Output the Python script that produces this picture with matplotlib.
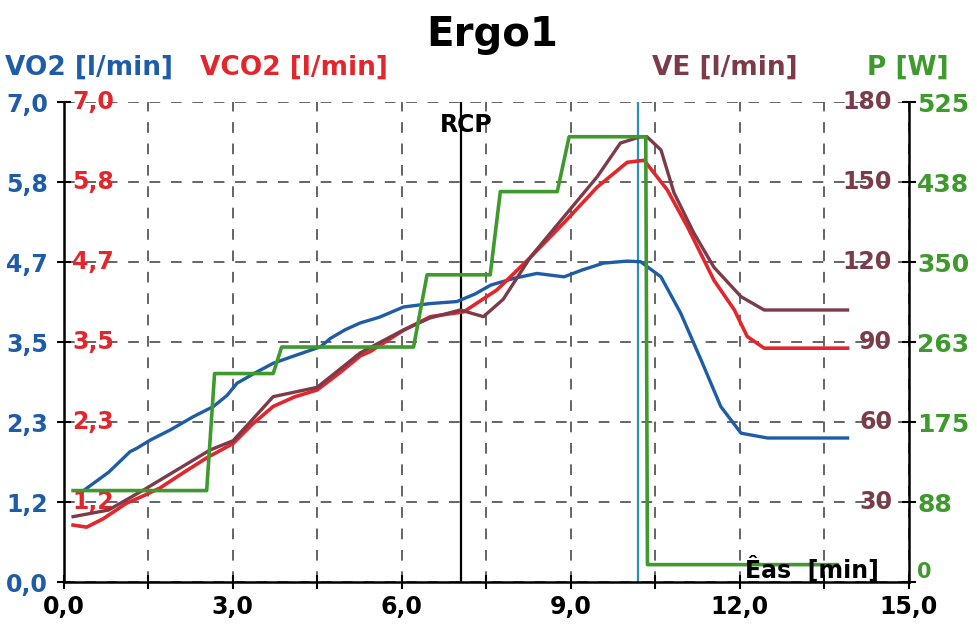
import numpy as np
import matplotlib
matplotlib.use('Agg')
from matplotlib import pyplot as plt
from matplotlib import transforms

BLUE = '#1f5ca8'
RED = '#e2262c'
BROWN = '#7c3b48'
GREEN = '#3f9a2e'
TEAL = '#2a90b4'

# VO2 [l/min]
vo2_t = [0.30, 0.50, 0.80, 1.18, 1.30, 1.54, 1.90, 2.30, 2.66, 2.90, 3.08, 3.40, 3.72, 4.10, 4.56,
         4.73, 5.00, 5.27, 5.60, 6.03, 6.50, 6.98, 7.30, 7.58, 8.00, 8.40, 8.88, 9.20, 9.58, 10.00,
         10.24, 10.60, 10.95, 11.31, 11.66, 12.02, 12.49, 13.91]
vo2 = [1.30, 1.42, 1.60, 1.90, 1.95, 2.07, 2.22, 2.41, 2.56, 2.72, 2.90, 3.05, 3.19, 3.30, 3.43,
       3.55, 3.68, 3.78, 3.86, 4.01, 4.06, 4.09, 4.20, 4.33, 4.43, 4.50, 4.45, 4.55, 4.65, 4.68,
       4.67, 4.45, 3.92, 3.24, 2.56, 2.17, 2.10, 2.10]

# VCO2 [l/min]
vco2_t = [0.17, 0.41, 0.70, 1.12, 1.40, 1.71, 2.10, 2.54, 3.01, 3.35, 3.72, 4.10, 4.50, 4.90, 5.27,
          5.44, 6.03, 6.51, 7.10, 7.69, 8.29, 8.88, 9.47, 10.00, 10.30, 10.71, 11.07, 11.54, 11.90,
          12.13, 12.43, 13.91]
vco2 = [0.83, 0.80, 0.92, 1.15, 1.25, 1.37, 1.58, 1.81, 2.02, 2.30, 2.56, 2.70, 2.80, 3.05, 3.30,
        3.36, 3.67, 3.87, 3.94, 4.26, 4.74, 5.24, 5.76, 6.12, 6.15, 5.72, 5.18, 4.40, 3.97,
        3.58, 3.41, 3.41]

# VE [l/min]
ve_t = [0.17, 0.80, 1.42, 2.01, 2.60, 3.01, 3.72, 4.50, 5.27, 6.03, 6.50, 7.04, 7.45, 7.80, 8.29,
        8.88, 9.47, 9.88, 10.24, 10.35, 10.60, 10.83, 11.18, 11.54, 12.02, 12.43, 13.91]
ve = [24.5, 27.0, 34.5, 42.0, 49.5, 53.0, 69.5, 73.0, 86.0, 94.5, 99.0, 102.0, 99.5, 106.0, 122.0,
      137.0, 152.0, 164.6, 167.0, 167.0, 162.0, 146.0, 131.0, 118.0, 107.0, 102.0, 102.0]

# P [W]
p_t = [0.17, 2.54, 2.68, 3.72, 3.87, 6.21, 6.45, 7.57, 7.75, 8.76, 8.97, 10.33, 10.36, 13.73]
p_w = [100, 100, 228, 228, 257, 257, 336, 336, 427, 427, 487, 487, 19, 19]

rcp_t = 7.05
end_t = 10.20

x_ticks = [0, 1.5, 3, 4.5, 6, 7.5, 9, 10.5, 12, 13.5, 15]
x_labels = ['0,0', '', '3,0', '', '6,0', '', '9,0', '', '12,0', '', '15,0']
vo2_ticks = [0, 7 / 6, 7 / 3, 3.5, 14 / 3, 35 / 6, 7.0]
vo2_labels = ['0,0', '1,2', '2,3', '3,5', '4,7', '5,8', '7,0']
ve_ticks = [30, 60, 90, 120, 150, 180]
ve_labels = ['30', '60', '90', '120', '150', '180']
p_ticks = [0, 87.5, 175, 262.5, 350, 437.5, 525]
p_labels = ['0', '88', '175', '263', '350', '438', '525']

W, H = 978, 628
fig = plt.figure(figsize=(W / 100, H / 100), dpi=100)
ax = fig.add_axes([63.5 / W, (H - 582) / H, 845.5 / W, 480 / H])
ax_ve = ax.twinx()
ax_p = ax.twinx()

for a in (ax, ax_ve, ax_p):
    for s in a.spines.values():
        s.set_visible(False)
ax.spines['left'].set_visible(True)
ax.spines['bottom'].set_visible(True)
ax_p.spines['right'].set_visible(True)
for s in (ax.spines['left'], ax.spines['bottom'], ax_p.spines['right']):
    s.set_linewidth(1.8)
    s.set_color('black')

ax.set_xlim(0, 15)
ax.set_ylim(0, 7)
ax_ve.set_ylim(0, 180)
ax_p.set_ylim(0, 525)

ax.grid(True, color='#3a3a3a', linewidth=1.1, linestyle=(0, (7, 7)))

ax.set_xticks(x_ticks, x_labels)
ax.set_yticks(vo2_ticks, vo2_labels)
ax.tick_params(axis='x', direction='inout', length=10, width=1.5, pad=4, labelsize=17)
ax.tick_params(axis='y', direction='inout', length=10, width=1.5, pad=6, labelsize=17,
               labelcolor=BLUE)
for lbl in ax.get_xticklabels() + ax.get_yticklabels():
    lbl.set_fontweight('bold')

ax_ve.set_yticks([])
ax_p.set_yticks(p_ticks, p_labels)
ax_p.tick_params(axis='y', direction='inout', length=10, width=1.5, pad=1, labelsize=18,
                 labelcolor=GREEN)
for lbl in ax_p.get_yticklabels():
    lbl.set_fontweight('bold')
p_zero = ax_p.get_yticklabels()[0]
p_zero.set_fontsize(15)
p_zero.set_va('bottom')

# inner labels for VCO2 and VE scales
tr_l = transforms.blended_transform_factory(ax.transAxes, ax.transData)
for v, lab in zip(vo2_ticks[1:], vo2_labels[1:]):
    ax.text(0.010, v, lab, transform=tr_l, ha='left', va='center', color=RED,
            fontsize=17, fontweight='bold')
tr_r = transforms.blended_transform_factory(ax_ve.transAxes, ax_ve.transData)
for v, lab in zip(ve_ticks, ve_labels):
    ax_ve.text(0.980, v, lab, transform=tr_r, ha='right', va='center', color=BROWN,
               fontsize=17, fontweight='bold')

ax.axvline(rcp_t, color='black', lw=1.6)
ax.axvline(end_t, color=TEAL, lw=1.6)

ax.plot(vo2_t, vo2, color=BLUE, lw=2.4)
ax.plot(vco2_t, vco2, color=RED, lw=2.6)
ax_ve.plot(ve_t, ve, color=BROWN, lw=2.4)
ax_p.plot(p_t, p_w, color=GREEN, lw=2.6)


def fx(x):
    return x / W


def fy(y):
    return 1 - y / H


fig.text(fx(492), fy(35), 'Ergo1', fontsize=29, fontweight='bold', ha='center', va='center')
fig.text(fx(5), fy(68), 'VO2 [l/min]', fontsize=19, fontweight='bold', color=BLUE,
         ha='left', va='center')
fig.text(fx(200), fy(68), 'VCO2 [l/min]', fontsize=19, fontweight='bold', color=RED,
         ha='left', va='center')
fig.text(fx(725), fy(68), 'VE [l/min]', fontsize=19, fontweight='bold', color=BROWN,
         ha='center', va='center')
fig.text(fx(908), fy(68), 'P [W]', fontsize=19, fontweight='bold', color=GREEN,
         ha='center', va='center')
fig.text(fx(466), fy(125), 'RCP', fontsize=17, fontweight='bold', color='black',
         ha='center', va='center')
fig.text(fx(812), fy(570), 'Êas  [min]', fontsize=17, fontweight='bold', color='black',
         ha='center', va='center')

fig.savefig('out.png', dpi=100)
